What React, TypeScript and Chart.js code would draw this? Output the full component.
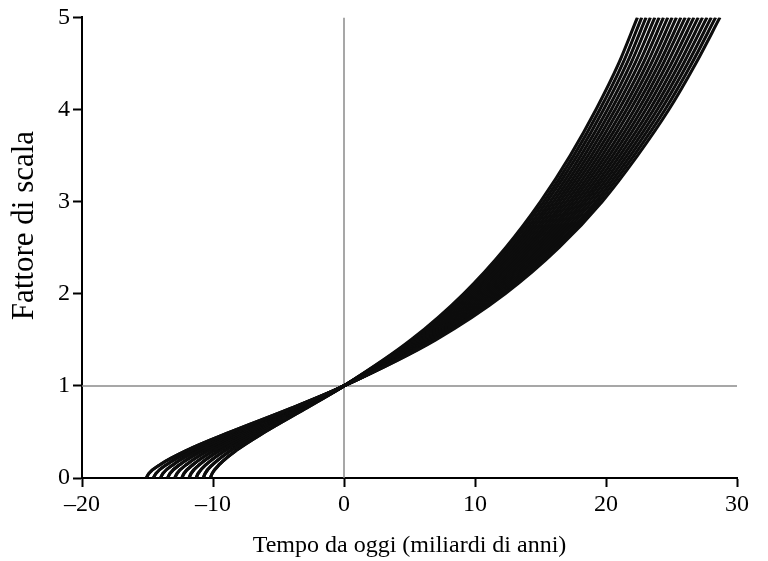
import React, { useEffect, useRef } from 'react';
import { Chart, registerables } from 'chart.js';

Chart.register(...registerables);

// Scale-factor levels sampled along every curve (past part, before today)
const pastScaleLevels = [0, 0.05, 0.15, 0.3, 0.5, 0.75];
// Time from today (Gyr) at which each past curve group reaches those levels
const pastTimes: number[][] = [
  [-15.1, -14.89, -13.99, -12.01, -8.67, -4.18],
  [-14.56, -14.35, -13.49, -11.59, -8.38, -4.05],
  [-14.01, -13.82, -12.99, -11.17, -8.09, -3.92],
  [-13.47, -13.28, -12.49, -10.75, -7.79, -3.78],
  [-12.92, -12.74, -11.99, -10.33, -7.5, -3.65],
  [-12.38, -12.21, -11.49, -9.91, -7.21, -3.52],
  [-11.83, -11.67, -10.99, -9.48, -6.92, -3.39],
  [-11.29, -11.13, -10.49, -9.06, -6.63, -3.26],
  [-10.74, -10.6, -9.99, -8.64, -6.33, -3.12],
  [-10.2, -10.06, -9.49, -8.22, -6.04, -2.99],
];

// Today: every curve passes through scale factor 1 at time 0
const todayTime = 0;
const todayScale = 1;

// Scale-factor levels sampled along every curve (future part)
const futureScaleLevels = [1.5, 2, 2.5, 3, 3.5, 4, 4.5, 5];
const futureTimes: number[][] = [
  [7.0, 12.3, 16.4, 19.7, 22.4, 24.8, 26.85, 28.7],
  [6.9, 12.13, 16.19, 19.45, 22.13, 24.51, 26.54, 28.37],
  [6.8, 11.97, 15.97, 19.21, 21.86, 24.21, 26.23, 28.04],
  [6.7, 11.8, 15.76, 18.96, 21.59, 23.92, 25.92, 27.71],
  [6.6, 11.63, 15.55, 18.71, 21.32, 23.63, 25.61, 27.37],
  [6.51, 11.47, 15.33, 18.46, 21.05, 23.34, 25.3, 27.04],
  [6.41, 11.3, 15.12, 18.22, 20.78, 23.04, 24.99, 26.71],
  [6.31, 11.13, 14.9, 17.97, 20.51, 22.75, 24.68, 26.38],
  [6.21, 10.97, 14.69, 17.72, 20.24, 22.46, 24.37, 26.05],
  [6.11, 10.8, 14.48, 17.47, 19.97, 22.17, 24.07, 25.72],
  [6.01, 10.63, 14.26, 17.23, 19.7, 21.87, 23.76, 25.38],
  [5.91, 10.47, 14.05, 16.98, 19.43, 21.58, 23.45, 25.05],
  [5.81, 10.3, 13.84, 16.73, 19.16, 21.29, 23.14, 24.72],
  [5.71, 10.13, 13.62, 16.48, 18.89, 20.99, 22.83, 24.39],
  [5.62, 9.96, 13.41, 16.24, 18.62, 20.7, 22.52, 24.06],
  [5.52, 9.8, 13.19, 15.99, 18.35, 20.41, 22.21, 23.73],
  [5.42, 9.63, 12.98, 15.74, 18.08, 20.12, 21.9, 23.39],
  [5.32, 9.46, 12.77, 15.49, 17.81, 19.82, 21.59, 23.06],
  [5.22, 9.3, 12.55, 15.25, 17.54, 19.53, 21.28, 22.73],
  [5.12, 9.13, 12.34, 15.0, 17.27, 19.24, 20.97, 22.4],
];

const xTickValues = [-20, -10, 0, 10, 20, 30];
const xTickLabels = ['\u201320', '\u201310', '0', '10', '20', '30'];
const yTickValues = [0, 1, 2, 3, 4, 5];
const yTickLabels = ['0', '1', '2', '3', '4', '5'];

const xTitle = 'Tempo da oggi (miliardi di anni)';
const yTitle = 'Fattore di scala';

const FONT = "'Liberation Serif', 'Times New Roman', serif";

// Draws the rotated y-axis title (positioned a little above the axis centre, as in the original)
const yTitlePlugin = {
  id: 'yTitlePlugin',
  afterDraw(chart: any) {
    const ctx = chart.ctx;
    const area = chart.chartArea;
    const cy = area.top + (area.bottom - area.top) * 0.452;
    ctx.save();
    ctx.translate(25, cy);
    ctx.rotate(-Math.PI / 2);
    ctx.font = `31px ${FONT}`;
    ctx.fillStyle = '#000';
    ctx.textAlign = 'center';
    ctx.textBaseline = 'middle';
    ctx.fillText(yTitle, 0, 0);
    ctx.restore();
  },
};

export default function App() {
  const ref = useRef<HTMLCanvasElement | null>(null);

  useEffect(() => {
    document.body.style.margin = '0';
    const canvas = ref.current;
    if (!canvas) return;

    const curveSets = futureTimes.map((fut, j) => {
      const past = pastTimes[Math.floor(j / 2)];
      const pts = [
        ...past.map((t, k) => ({ x: t, y: pastScaleLevels[k] })),
        { x: todayTime, y: todayScale },
        ...fut.map((t, k) => ({ x: t, y: futureScaleLevels[k] })),
      ];
      return {
        data: pts,
        showLine: true,
        borderColor: '#0d0d0d',
        borderWidth: 3.1,
        pointRadius: 0,
        cubicInterpolationMode: 'monotone' as const,
        order: 1,
      };
    });

    const xMin = xTickValues[0];
    const xMax = xTickValues[xTickValues.length - 1];
    const yMin = yTickValues[0];
    const yMax = yTickValues[yTickValues.length - 1];

    const refLines = [
      {
        data: [{ x: todayTime, y: yMin }, { x: todayTime, y: yMax }],
        showLine: true,
        borderColor: '#8a8a8a',
        borderWidth: 1.5,
        pointRadius: 0,
        order: 2,
      },
      {
        data: [{ x: xMin, y: todayScale }, { x: xMax, y: todayScale }],
        showLine: true,
        borderColor: '#8a8a8a',
        borderWidth: 1.5,
        pointRadius: 0,
        order: 2,
      },
    ];

    const chart = new Chart(canvas, {
      type: 'scatter',
      data: { datasets: [...curveSets, ...refLines] as any },
      options: {
        animation: false,
        responsive: false,
        maintainAspectRatio: false,
        layout: { padding: { top: 14, right: 31, left: 0, bottom: 0 } },
        plugins: { legend: { display: false }, tooltip: { enabled: false } },
        scales: {
          x: {
            type: 'linear',
            min: xMin,
            max: xMax,
            afterBuildTicks: (s: any) => {
              s.ticks = xTickValues.map((v) => ({ value: v }));
            },
            afterFit: (s: any) => {
              s.height = 83;
            },
            ticks: {
              color: '#000',
              font: { family: FONT, size: 24 },
              padding: 3,
              maxRotation: 0,
              callback: (v: any) => {
                const i = xTickValues.indexOf(Number(v));
                return i >= 0 ? xTickLabels[i] : '';
              },
            },
            grid: {
              drawOnChartArea: false,
              drawTicks: true,
              tickLength: 9,
              tickWidth: 2,
              tickColor: '#000',
            },
            border: { display: true, color: '#000', width: 2 },
            title: {
              display: true,
              text: xTitle,
              color: '#000',
              font: { family: FONT, size: 24 },
              padding: { top: 0, bottom: 1 },
            },
          },
          y: {
            type: 'linear',
            min: yMin,
            max: yMax,
            afterBuildTicks: (s: any) => {
              s.ticks = yTickValues.map((v) => ({ value: v }));
            },
            afterFit: (s: any) => {
              s.width = 82;
            },
            ticks: {
              color: '#000',
              font: { family: FONT, size: 24 },
              padding: 3,
              callback: (v: any) => {
                const i = yTickValues.indexOf(Number(v));
                return i >= 0 ? yTickLabels[i] : '';
              },
            },
            grid: {
              drawOnChartArea: false,
              drawTicks: true,
              tickLength: 9,
              tickWidth: 2,
              tickColor: '#000',
            },
            border: { display: true, color: '#000', width: 2 },
            title: { display: false },
          },
        },
      },
      plugins: [yTitlePlugin],
    });

    return () => chart.destroy();
  }, []);

  return (
    <canvas
      ref={ref}
      width={768}
      height={561}
      style={{ position: 'fixed', left: 0, top: 0, width: 768, height: 561 }}
    />
  );
}
